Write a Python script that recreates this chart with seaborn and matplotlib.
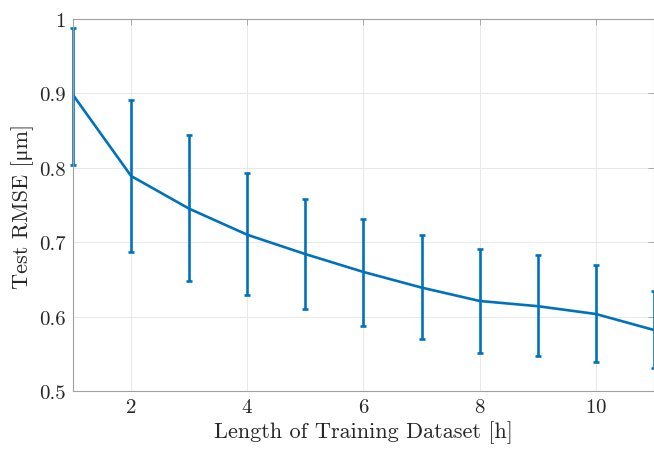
import matplotlib
matplotlib.use("Agg")
import matplotlib.pyplot as plt
import seaborn as sns
import numpy as np
import pandas as pd
from matplotlib.ticker import FuncFormatter

# training length [h] and test RMSE stats
hours = [1, 2, 3, 4, 5, 6, 7, 8, 9, 10, 11]
rmse_mean = [0.898, 0.789, 0.745, 0.710, 0.684, 0.660, 0.639, 0.621, 0.614, 0.6035, 0.582]
rmse_upper = [0.988, 0.891, 0.844, 0.793, 0.758, 0.731, 0.710, 0.691, 0.683, 0.669, 0.634]
rmse_lower = [0.804, 0.687, 0.648, 0.629, 0.610, 0.588, 0.5695, 0.5515, 0.5466, 0.5385, 0.531]

MATLAB_BLUE = "#0072BD"

sns.set_style("white")
# cmr10 has no greek mu, so fall back to a serif font for that glyph
plt.rcParams["font.family"] = ["cmr10", "Liberation Serif", "DejaVu Serif"]
plt.rcParams["mathtext.fontset"] = "cm"
plt.rcParams["axes.formatter.use_mathtext"] = True

df = pd.DataFrame({"hours": hours, "rmse": rmse_mean})
mean = np.array(rmse_mean)
yerr = [mean - np.array(rmse_lower), np.array(rmse_upper) - mean]

fig = plt.figure(figsize=(6.54, 4.52), dpi=100)
ax = fig.add_axes([0.1116, 0.1327, 0.8884, 0.8231])

sns.lineplot(data=df, x="hours", y="rmse", ax=ax, color=MATLAB_BLUE, linewidth=1.9)
ax.errorbar(hours, rmse_mean, yerr=yerr, fmt="none", ecolor=MATLAB_BLUE,
            elinewidth=1.9, capsize=2.2, capthick=1.9, clip_on=False)

ax.set_xlim(1, 11)
ax.set_ylim(0.5, 1.0)
ax.set_xticks([2, 4, 6, 8, 10])
ax.set_yticks([0.5, 0.6, 0.7, 0.8, 0.9, 1.0])
ax.yaxis.set_major_formatter(FuncFormatter(lambda v, p: f"{v:g}"))

ax.grid(True, color="#e8e8e8", linewidth=0.7)
for s in ax.spines.values():
    s.set_color("#a0a0a0")
    s.set_linewidth(0.8)
ax.tick_params(direction="in", length=4, width=0.6, color="#a0a0a0",
               labelsize=15, top=True, right=True, labelcolor="#262626", pad=5)

ax.set_xlabel("Length of Training Dataset [h]", fontsize=16, color="#262626", labelpad=3)
ax.set_ylabel("Test RMSE [\u03bcm]", fontsize=16, color="#262626", labelpad=4)

fig.savefig("out.png", dpi=100)
